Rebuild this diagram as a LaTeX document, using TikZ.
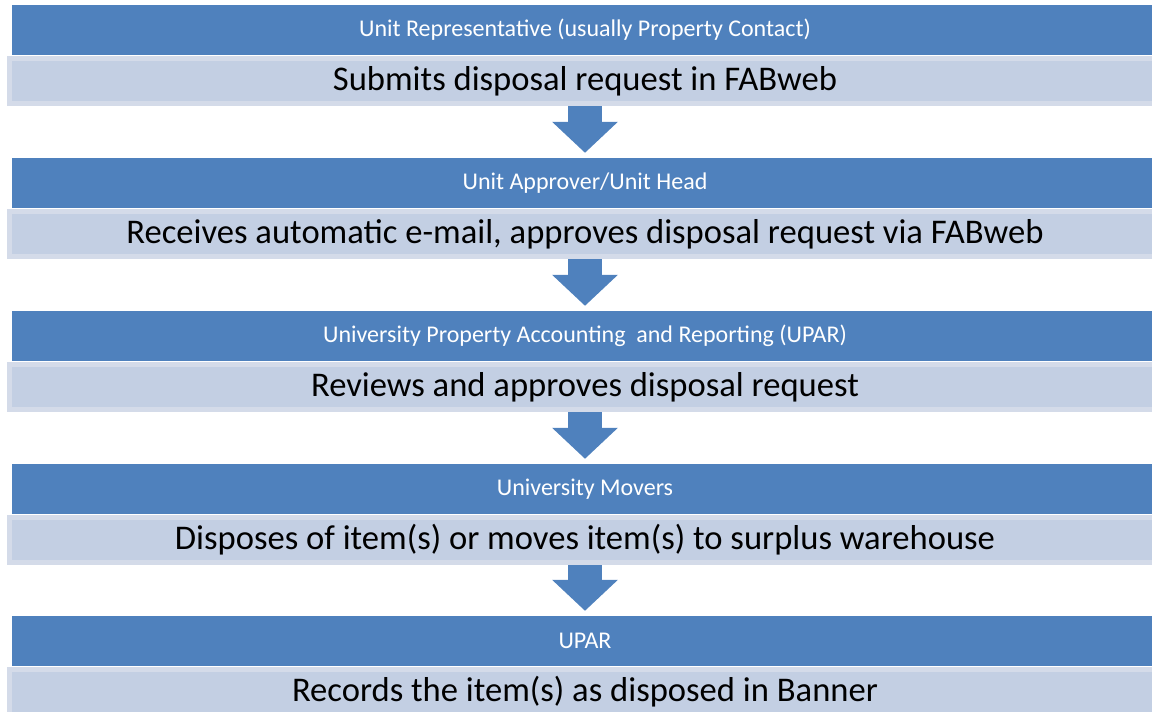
\documentclass[tikz,border=0pt]{standalone}
\usepackage{fontspec}
\setmainfont{Carlito}
\usetikzlibrary{arrows.meta}
\definecolor{hdrblue}{HTML}{4F81BD}
\definecolor{stepfill}{HTML}{C3CFE3}
\definecolor{stepedge}{HTML}{D4DBE9}
\tikzset{who/.style={fill=hdrblue, text=white, minimum width=1146pt, minimum height=50pt, inner sep=0pt, font=\fontsize{24}{28}\selectfont},
 task/.style={fill=stepfill, draw=stepedge, line width=5pt, minimum width=1152pt, minimum height=45pt, inner sep=0pt, font=\fontsize{34.6}{40}\selectfont},
 down/.style={draw=hdrblue, line width=34pt, shorten >=5pt, -{Triangle[width=64pt,length=31pt]}},
 }

\begin{document}
\begin{tikzpicture}[x=1pt, y=-1pt]
        \useasboundingbox (0, 0) rectangle (1152, 712);
        \clip (0, 0) rectangle (1152, 712);
        % stages
        \node [who] (who1) at (585, 30) {Unit Representative (usually Property Contact)};
        \node [task] (task1) at (585, 81) {Submits disposal request in FABweb};
        \node [who] (who2) at (585, 183) {Unit Approver/Unit Head};
        \node [task] (task2) at (585, 234) {Receives automatic e-mail, approves disposal request via FABweb};
        \node [who] (who3) at (585, 336) {University Property Accounting \ and Reporting (UPAR)};
        \node [task] (task3) at (585, 387) {Reviews and approves disposal request};
        \node [who] (who4) at (585, 489) {University Movers};
        \node [task] (task4) at (585, 540) {Disposes of item(s) or moves item(s) to surplus warehouse};
        \node [who] (who5) at (585, 641) {UPAR};
        \node [task] (task5) at (585, 692) {Records the item(s) as disposed in Banner};
        % arrows
        \draw [down] (task1.south) -- (who2.north);
        \draw [down] (task2.south) -- (who3.north);
        \draw [down] (task3.south) -- (who4.north);
        \draw [down] (task4.south) -- (who5.north);
    \end{tikzpicture}
\end{document}
